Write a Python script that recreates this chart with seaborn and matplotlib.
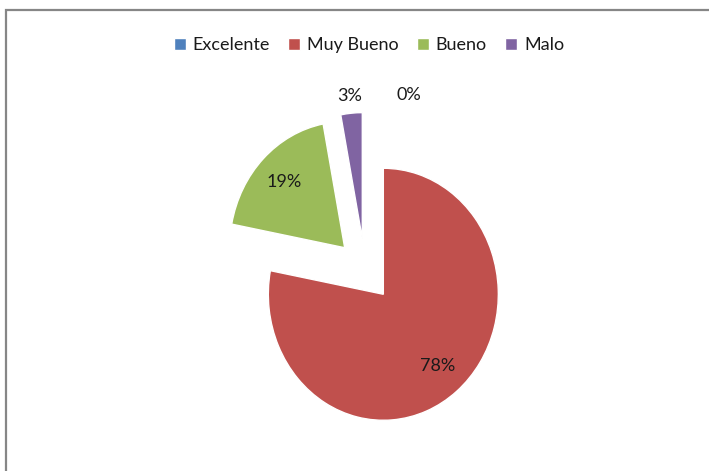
import numpy as np
import seaborn as sns
import matplotlib.pyplot as plt
from matplotlib.patches import Rectangle

categories = ['Excelente', 'Muy Bueno', 'Bueno', 'Malo']
values = [0, 78, 19, 3]
colors = ['#4F81BD', '#C0504D', '#9BBB59', '#8064A2']

sns.set_theme(style='white')
plt.rcParams['font.family'] = ['Lato', 'DejaVu Sans']

W, H = 709, 471
fig = plt.figure(figsize=(W / 100, H / 100), dpi=100)
ax = fig.add_axes([0, 0, 1, 1])

pal = sns.color_palette(colors)
wedges, texts, autotexts = ax.pie(values, colors=pal, startangle=90, counterclock=False,
                                  explode=[0.25] * len(values), autopct='%1.0f%%',
                                  pctdistance=0.74, radius=1,
                                  textprops=dict(fontsize=13, color='#1a1a1a'))

# small slices: put labels outside like excel "best fit"
for w, t, v in zip(wedges, autotexts, values):
    if v < 5:
        ang = np.deg2rad((w.theta1 + w.theta2) / 2)
        cx, cy = w.center
        x = cx + 1.14 * np.cos(ang)
        y = cy + 1.14 * np.sin(ang)
        if v == 0:
            x += 0.38
        t.set_position((x, y))

# pixel scale: 115 px per unit horizontally, 126 px vertically
cx_px, cy_px = 365, 270
ax.set_aspect('auto')
ax.set_xlim(-cx_px / 115, (W - cx_px) / 115)
ax.set_ylim(-(H - cy_px) / 126, cy_px / 126)
ax.axis('off')

leg = fig.legend(wedges, categories, loc='center', bbox_to_anchor=(369 / W, 1 - 45 / H),
                 ncol=4, frameon=False, fontsize=13, handlelength=0.65, handleheight=0.65,
                 handletextpad=0.4, columnspacing=1.0)
for txt in leg.get_texts():
    txt.set_color('#1a1a1a')

fig.patches.append(Rectangle((6 / W, -0.1), 1.2, 1.1 - 10 / H, transform=fig.transFigure,
                             fill=False, edgecolor='#868686', lw=1.6))

fig.savefig('out.png', dpi=100)
